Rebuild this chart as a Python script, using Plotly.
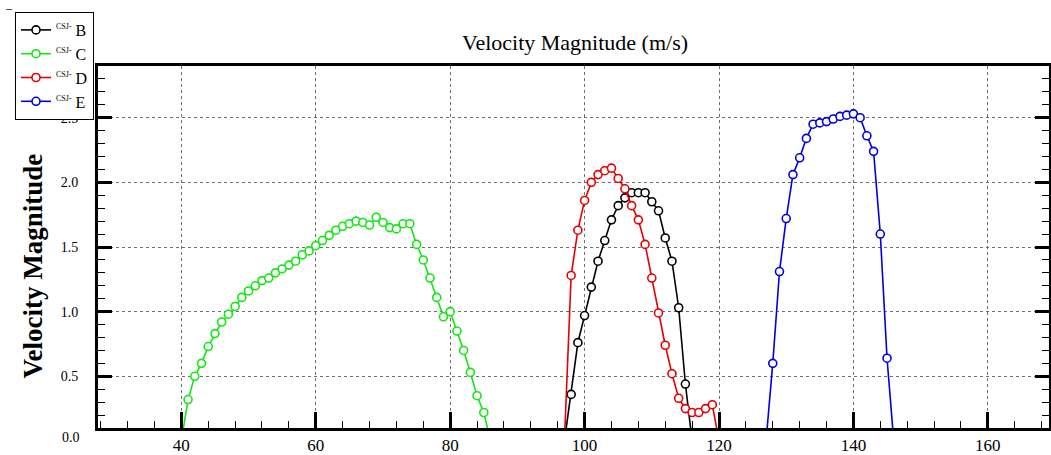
import plotly.graph_objects as go

# ---- data ----
x_B = list(range(97, 117))
y_B = [0.0, 0.36, 0.76, 0.97, 1.19, 1.39, 1.55, 1.71, 1.82, 1.88,
       1.92, 1.92, 1.92, 1.85, 1.78, 1.57, 1.39, 1.03, 0.44, 0.0]

x_C = list(range(40, 87))
y_C = [0.0, 0.32, 0.50, 0.60, 0.73, 0.83, 0.92, 0.98, 1.04, 1.11,
       1.16, 1.20, 1.24, 1.26, 1.30, 1.33, 1.36, 1.39, 1.44, 1.47,
       1.51, 1.55, 1.59, 1.63, 1.66, 1.68, 1.70, 1.69, 1.67, 1.73,
       1.69, 1.65, 1.64, 1.68, 1.68, 1.52, 1.40, 1.26, 1.11, 0.96,
       1.00, 0.85, 0.70, 0.53, 0.35, 0.22, 0.0]

x_D = list(range(97, 121))
y_D = [0.0, 1.28, 1.63, 1.86, 2.00, 2.06, 2.09, 2.11, 2.03, 1.95,
       1.82, 1.71, 1.52, 1.26, 0.99, 0.74, 0.52, 0.33, 0.25, 0.22,
       0.22, 0.25, 0.28, 0.0]

x_E = list(range(127, 147))
y_E = [0.0, 0.60, 1.31, 1.72, 2.06, 2.19, 2.34, 2.45, 2.46, 2.47,
       2.49, 2.51, 2.52, 2.53, 2.50, 2.36, 2.24, 1.60, 0.64, 0.0]

series_names = ["B", "C", "D", "E"]
series_x = [x_B, x_C, x_D, x_E]
series_y = [y_B, y_C, y_D, y_E]
series_colors = ["#000000", "#14e614", "#e60000", "#0000e0"]

x_ticks = [40, 60, 80, 100, 120, 140, 160]
y_ticks = [0.5, 1.0, 1.5, 2.0, 2.5]
y_ticktext = ["0.5", "1.0", "1.5", "2.0", "2.5"]

FONT = "Liberation Serif"

# plot-area geometry (pixels) used for paper-coordinate annotations
L, R, T, B = 97.7, 1049.0, 66.0, 427.7
W, H = R - L, B - T
def px(xp):
    return (xp - L) / W
def py(yp):
    return (B - yp) / H

fig = go.Figure()
for name, xs, ys, col in zip(series_names, series_x, series_y, series_colors):
    fig.add_trace(go.Scatter(
        x=xs, y=ys, mode="lines+markers",
        name="<sup><span style='font-size:8px'>CSJ-</span></sup> " + name,
        line=dict(color=col, width=1.6),
        marker=dict(symbol="circle", size=8, color="white",
                    line=dict(color=col, width=1.6)),
    ))

fig.update_layout(
    width=1051, height=455,
    margin=dict(l=L, r=1051 - R, t=T, b=455 - B, pad=0, autoexpand=False),
    paper_bgcolor="white", plot_bgcolor="white",
    font=dict(family=FONT, color="black"),
    title=dict(text="Velocity Magnitude (m/s)", x=575 / 1051, y=1 - 42 / 455,
               xanchor="center", yanchor="middle",
               font=dict(family=FONT, size=22, color="black")),
    legend=dict(xref="container", yref="container", x=15 / 1051, y=1 - 12 / 455,
                xanchor="left", yanchor="top", bgcolor="white",
                bordercolor="black", borderwidth=1,
                font=dict(family=FONT, size=16, color="black"),
                itemwidth=30, tracegroupgap=0),
    showlegend=True,
)

fig.update_xaxes(
    range=[27.6, 169.1], tickvals=x_ticks, automargin=False,
    ticks="inside", ticklen=16, tickwidth=3, tickcolor="black",
    showline=True, linecolor="black", linewidth=3, mirror=True,
    showgrid=True, gridcolor="#6e6e6e", gridwidth=1, griddash="3px,3px",
    zeroline=False,
    tickfont=dict(family=FONT, size=17, color="black"),
    minor=dict(dtick=4, tick0=0, ticks="inside", ticklen=7, tickwidth=1,
               tickcolor="black", showgrid=False),
)
fig.update_yaxes(
    range=[0.1, 2.9], tickvals=y_ticks, ticktext=y_ticktext, automargin=False,
    ticks="inside", ticklen=14, tickwidth=3, tickcolor="black",
    showline=True, linecolor="black", linewidth=3, mirror="ticks",
    showgrid=True, gridcolor="#6e6e6e", gridwidth=1, griddash="3px,3px",
    zeroline=False, ticklabelstandoff=14,
    tickfont=dict(family=FONT, size=14, color="black"),
    minor=dict(dtick=0.1, tick0=0, ticks="inside", ticklen=7, tickwidth=1,
               tickcolor="black", showgrid=False),
)

# y axis title
fig.add_annotation(text="<b>Velocity Magnitude</b>", xref="paper", yref="paper",
                   x=px(33), y=py(266), textangle=-90, showarrow=False,
                   xanchor="center", yanchor="middle",
                   font=dict(family=FONT, size=27, color="black"))
# 0.0 tick label sitting just below the axis
fig.add_annotation(text="0.0", xref="paper", yref="paper",
                   x=px(82), y=py(437), showarrow=False,
                   xanchor="right", yanchor="middle",
                   font=dict(family=FONT, size=14, color="black"))
# small dash mark at top-left corner
fig.add_annotation(text="–", xref="paper", yref="paper",
                   x=px(9), y=py(8), showarrow=False,
                   xanchor="center", yanchor="middle",
                   font=dict(family=FONT, size=12, color="black"))

fig.write_html("out.html", config={"displayModeBar": False},
               post_script="document.body.style.margin='0';")
